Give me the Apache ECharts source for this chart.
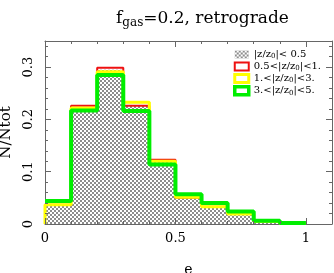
<!DOCTYPE html>
<html><head><meta charset="utf-8">
<script src="https://cdn.jsdelivr.net/npm/echarts@6/dist/echarts.min.js"></script>
<style>html,body{margin:0;padding:0;background:#fff}#c{width:334px;height:273px}</style>
</head><body><div id="c"></div>
<script>
// bin edges 0..1.0 step 0.1
const binEdges = [0, 0.1, 0.2, 0.3, 0.4, 0.5, 0.6, 0.7, 0.8, 0.9, 1.0];
const seriesNames = ['|z/z0|< 0.5', '0.5<|z/z0|<1.', '1.<|z/z0|<3.', '3.<|z/z0|<5.'];
const hatchVals  = [0.035, 0.222, 0.295, 0.226, 0.120, 0.050, 0.032, 0.018, 0.005, 0.000];
const redVals    = [0.037, 0.226, 0.299, 0.226, 0.123, 0.050, 0.033, 0.019, 0.005, 0.001];
const yellowVals = [0.037, 0.222, 0.291, 0.233, 0.120, 0.051, 0.033, 0.019, 0.005, 0.001];
const greenVals  = [0.044, 0.217, 0.285, 0.216, 0.114, 0.057, 0.040, 0.024, 0.006, 0.002];
const xTicks = [0, 0.5, 1];
const yTicks = [0, 0.1, 0.2, 0.3];

function stepData(vals, dropStart) {
  const d = [];
  if (dropStart) d.push([binEdges[0], 0]);
  for (let i = 0; i < vals.length; i++) d.push([binEdges[i], vals[i]]);
  d.push([binEdges[binEdges.length - 1], vals[vals.length - 1]]);
  return d;
}

// crosshatch pattern
const pc = document.createElement('canvas');
pc.width = 4; pc.height = 4;
const px = pc.getContext('2d');
px.fillStyle = '#ffffff'; px.fillRect(0, 0, 4, 4);
px.fillStyle = '#8c8c8c';
px.fillRect(0, 0, 2, 2); px.fillRect(2, 2, 2, 2);
const hatch = { image: pc, repeat: 'repeat' };

const axisCol = '#666';
const FONT = 'DejaVu Serif';
const X_RANGE = { min: 0, max: 1.1, interval: 0.5 };
const Y_RANGE = { min: 0, max: 0.35, interval: 0.1 };

function mainX(pos, show) {
  return Object.assign({
    type: 'value', position: pos, gridIndex: 0,
    axisLine: { show: true, onZero: false, lineStyle: { color: axisCol, width: 1 } },
    axisTick: { show: false }, minorTick: { show: false },
    axisLabel: { show: show, margin: 8, color: '#000', fontFamily: FONT, fontSize: 13, showMaxLabel: false,
      formatter: v => (xTicks.indexOf(v) >= 0 ? String(v) : '') },
    splitLine: { show: false }, minorSplitLine: { show: false },
    name: show ? 'e' : '', nameLocation: 'middle', nameGap: 39,
    nameTextStyle: { color: '#000', fontFamily: FONT, fontSize: 14 }
  }, X_RANGE);
}
function mainY(pos, show) {
  return Object.assign({
    type: 'value', position: pos, gridIndex: 0,
    axisLine: { show: true, onZero: false, lineStyle: { color: axisCol, width: 1 } },
    axisTick: { show: false }, minorTick: { show: false },
    axisLabel: { show: show, rotate: 90, margin: 10, color: '#000', fontFamily: FONT, fontSize: 13, showMaxLabel: false,
      formatter: v => (yTicks.some(t => Math.abs(t - v) < 1e-9) ? String(v) : '') },
    splitLine: { show: false }, minorSplitLine: { show: false },
    name: show ? 'N/Ntot' : '', nameLocation: 'middle', nameGap: 24, nameRotate: 90,
    nameTextStyle: { color: '#000', fontFamily: FONT, fontSize: 15 }
  }, Y_RANGE);
}
// tick-only axes living in thin neighbouring grids, so their outward ticks point into the plot frame
function tickAxis(range, pos, gi) {
  return Object.assign({
    type: 'value', position: pos, gridIndex: gi, z: 20,
    axisLine: { show: false, onZero: false },
    axisTick: { show: true, inside: false, length: 6, lineStyle: { color: axisCol, width: 1 } },
    minorTick: { show: true, splitNumber: 5, length: 3, lineStyle: { color: axisCol, width: 1 } },
    axisLabel: { show: false }, splitLine: { show: false }, minorSplitLine: { show: false }
  }, range);
}
function hiddenAxis(gi) {
  return { type: 'value', gridIndex: gi, show: false, min: 0, max: 1 };
}

const legRich = {
  t: { fontFamily: FONT, fontSize: 10, color: '#000', lineHeight: 12 },
  s: { fontFamily: FONT, fontSize: 7, color: '#000', lineHeight: 12, padding: [4, 0, 0, 0] }
};
function legFmt(name) {
  return name.replace(/^(.*z\/z)0(.*)$/, (m, a, b) => '{t|' + a + '}{s|0}{t|' + b + '}');
}

const chart = echarts.init(document.getElementById('c'), null, { renderer: 'canvas' });
chart.setOption({
  animation: false,
  backgroundColor: '#fff',
  title: {
    text: '{a|f}{s|gas}{a|=0.2, retrograde}',
    left: 111, top: 3,
    textStyle: {
      fontWeight: 'normal',
      rich: {
        a: { fontFamily: FONT, fontSize: 17, fontWeight: 'normal', color: '#000', lineHeight: 21 },
        s: { fontFamily: FONT, fontSize: 12, fontWeight: 'normal', color: '#000', padding: [9, 0, 0, 0] }
      }
    }
  },
  grid: [
    { left: 45, right: 2, top: 41, bottom: 49, containLabel: false, outerBoundsMode: 'none' },   // main
    { left: 0, width: 45, top: 41, bottom: 49, containLabel: false, outerBoundsMode: 'none' },   // left ticks
    { left: 332, right: 0, top: 41, bottom: 49, containLabel: false, outerBoundsMode: 'none' },  // right ticks
    { left: 45, right: 2, top: 0, height: 41, containLabel: false, outerBoundsMode: 'none' },    // top ticks
    { left: 45, right: 2, top: 224, bottom: 0, containLabel: false, outerBoundsMode: 'none' }    // bottom ticks
  ],
  xAxis: [
    mainX('bottom', true), mainX('top', false),
    hiddenAxis(1), hiddenAxis(2),
    tickAxis(X_RANGE, 'bottom', 3), tickAxis(X_RANGE, 'top', 4)
  ],
  yAxis: [
    mainY('left', true), mainY('right', false),
    tickAxis(Y_RANGE, 'right', 1), tickAxis(Y_RANGE, 'left', 2),
    hiddenAxis(3), hiddenAxis(4)
  ],
  legend: {
    orient: 'vertical', left: 233, top: 49, padding: 0, itemGap: 1, itemWidth: 14, itemHeight: 8,
    selectedMode: false,
    formatter: legFmt,
    textStyle: { rich: legRich, fontFamily: FONT, fontSize: 10 },
    data: [
      { name: seriesNames[0], icon: 'rect', itemStyle: { color: hatch, borderWidth: 0 } },
      { name: seriesNames[1], icon: 'rect', itemStyle: { color: '#fff', borderColor: '#ee1111', borderWidth: 2 } },
      { name: seriesNames[2], icon: 'rect', itemStyle: { color: '#fff', borderColor: '#ffff00', borderWidth: 3 } },
      { name: seriesNames[3], icon: 'rect', itemStyle: { color: '#fff', borderColor: '#00ee00', borderWidth: 3.5 } }
    ]
  },
  series: [
    { name: seriesNames[0], type: 'line', step: 'end', symbol: 'none', xAxisIndex: 0, yAxisIndex: 0, data: stepData(hatchVals, true),
      lineStyle: { width: 0, color: '#999' }, itemStyle: { color: '#999' }, areaStyle: { color: hatch, opacity: 1 } },
    { name: seriesNames[1], type: 'line', step: 'end', symbol: 'none', xAxisIndex: 0, yAxisIndex: 0, data: stepData(redVals, true),
      lineStyle: { width: 2, color: '#ee1111' }, itemStyle: { color: '#ee1111' } },
    { name: seriesNames[2], type: 'line', step: 'end', symbol: 'none', xAxisIndex: 0, yAxisIndex: 0, data: stepData(yellowVals, true),
      lineStyle: { width: 3, color: '#ffff00' }, itemStyle: { color: '#ffff00' } },
    { name: seriesNames[3], type: 'line', step: 'end', symbol: 'none', xAxisIndex: 0, yAxisIndex: 0, data: stepData(greenVals, false),
      lineStyle: { width: 4, color: '#00ee00' }, itemStyle: { color: '#00ee00' } }
  ]
});
</script></body></html>
